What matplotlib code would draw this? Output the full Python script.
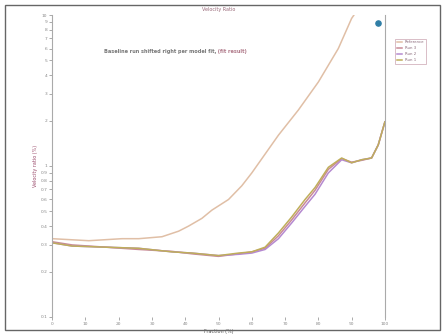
import numpy as np
import matplotlib
matplotlib.use('Agg')
import matplotlib.pyplot as plt
from matplotlib.patches import Rectangle

# data (x in %, y on log scale)
x_main = [0, 6, 16, 26, 36, 42, 50, 56, 60, 64, 68, 72, 76, 79, 83, 87, 90, 93, 96, 98, 100]
run_a = [0.31, 0.295, 0.29, 0.285, 0.27, 0.265, 0.255, 0.265, 0.27, 0.29, 0.36, 0.46,
         0.6, 0.72, 0.98, 1.13, 1.05, 1.1, 1.13, 1.38, 1.96]
run_b = [0.31, 0.295, 0.29, 0.285, 0.27, 0.265, 0.255, 0.26, 0.265, 0.28, 0.33, 0.42,
         0.54, 0.65, 0.9, 1.1, 1.05, 1.1, 1.13, 1.38, 1.96]
run_c = [0.315, 0.3, 0.29, 0.28, 0.272, 0.262, 0.252, 0.262, 0.27, 0.285, 0.345, 0.44,
         0.57, 0.69, 0.95, 1.12, 1.06, 1.09, 1.13, 1.38, 1.96]

x_ref = [0, 11, 21, 26, 33, 38, 41, 45, 48, 53, 57, 60, 64, 68, 74, 80, 86, 90, 92]
ref = [0.33, 0.32, 0.33, 0.33, 0.34, 0.37, 0.4, 0.45, 0.51, 0.6, 0.74, 0.9, 1.2, 1.6,
       2.35, 3.6, 6.0, 9.5, 11.0]

marker_x = [98]
marker_y = [8.85]

y_ticks = [0.1, 0.2, 0.3, 0.4, 0.5, 0.6, 0.7, 0.8, 0.9, 1, 2, 3, 4, 5, 6, 7, 8, 9, 10]
y_labels = ['0.1', '0.2', '0.3', '0.4', '0.5', '0.6', '0.7', '0.8', '0.9', '1',
            '2', '3', '4', '5', '6', '7', '8', '9', '10']
x_ticks = [0, 10, 20, 30, 40, 50, 60, 70, 80, 90, 100]

fig = plt.figure(figsize=(4.46, 3.34), dpi=100)
ax = fig.add_axes([0.117, 0.051, 0.746, 0.904])

ax.plot(x_ref, ref, color='#e0bfa6', lw=1.1, label='Reference')
ax.plot(x_main, run_c, color='#c98a96', lw=1.1, label='Run 3')
ax.plot(x_main, run_b, color='#b58ad0', lw=1.1, label='Run 2')
ax.plot(x_main, run_a, color='#bfae5a', lw=1.1, label='Run 1')
ax.scatter(marker_x, marker_y, color='#2f7ea6', s=14, zorder=5)

ax.set_yscale('log')
ax.set_ylim(0.1, 10)
ax.set_xlim(0, 100)
ax.set_yticks(y_ticks)
ax.set_yticklabels(y_labels)
ax.minorticks_off()
ax.set_xticks(x_ticks)
ax.tick_params(labelsize=3.2, colors='#888888', length=2, width=0.5, pad=1.5)

for s in ['top', 'bottom']:
    ax.spines[s].set_visible(False)
for s in ['left', 'right']:
    ax.spines[s].set_color('#aaaaaa')
    ax.spines[s].set_linewidth(0.8)

ax.set_title('Velocity Ratio', fontsize=3.5, color='#9a6a7a', pad=3)
ax.set_xlabel('Fraction (%)', fontsize=3.5, color='#555555', labelpad=2)
ax.set_ylabel('Velocity ratio (%)', fontsize=3.5, color='#9a4a6a', labelpad=2)

t1 = ax.text(0.155, 0.875, 'Baseline run shifted right per model fit,',
             transform=ax.transAxes, fontsize=3.6, color='#777777', fontweight='bold')
ax.annotate(' (fit result)', xy=(1, 0), xycoords=t1, va='bottom',
            fontsize=3.6, color='#b07a8a', fontweight='bold')

leg = fig.legend(loc='upper left', bbox_to_anchor=(0.882, 0.89), fontsize=2.8,
                 frameon=True, fancybox=False, handlelength=1.2, labelcolor='#8a6a7a')
leg.get_frame().set_edgecolor('#c9a0ad')
leg.get_frame().set_linewidth(0.6)

fig.patches.append(Rectangle((0.011, 0.012), 0.975, 0.972, transform=fig.transFigure,
                             fill=False, edgecolor='#666666', lw=1.0))

fig.savefig('out.png', dpi=100)
